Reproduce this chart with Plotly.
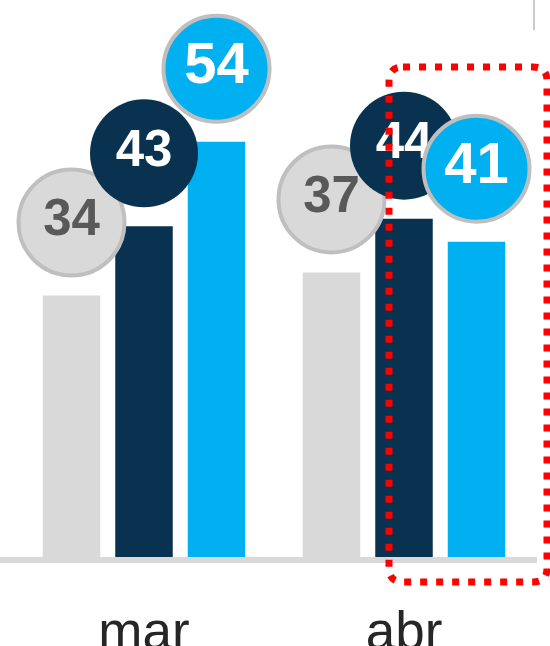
import plotly.graph_objects as go

# ---- data ----
months = ["feb", "mar", "abr"]
series_names = ["Serie 1", "Serie 2", "Serie 3"]
grey_values = [None, 34, 37]   # feb value not visible in the crop
dark_values = [None, 43, 44]   # feb value not visible in the crop
blue_values = [44, 54, 41]

# ---- style ----
GREY = "#d9d9d9"
DARK = "#08324f"
BLUE = "#00b0f0"
BORDER = "#bfbfbf"

W, H = 550, 646
BASE_Y = 557             # y pixel of value 0 inside the figure
BOTTOM = H - BASE_Y
PX_PER_UNIT = 7.69
GROUP_PX = 260.0
SLOT = 72.5 / GROUP_PX
BAR_W = 57.5 / GROUP_PX
LABEL_LIFT = 73 / PX_PER_UNIT

x_idx = list(range(len(months)))
x0 = 1 - 144 / GROUP_PX
x_range = [x0, x0 + W / GROUP_PX]
y_range = [0, BASE_Y / PX_PER_UNIT]

fig = go.Figure()

specs = [
    (series_names[0], grey_values, GREY, -1, "#595959", 51, BORDER, 4, 106),
    (series_names[1], dark_values, DARK, 0, "#ffffff", 51, DARK, 0, 108),
    (series_names[2], blue_values, BLUE, 1, "#ffffff", 58, BORDER, 4, 106),
]

for name, vals, col, k, tcol, tsize, lcol, lw, msize in specs:
    fig.add_trace(go.Bar(
        x=x_idx, y=vals, name=name,
        marker=dict(color=col, line=dict(width=0)),
        width=BAR_W, offset=k * SLOT - BAR_W / 2,
        hoverinfo="skip",
    ))

for name, vals, col, k, tcol, tsize, lcol, lw, msize in specs:
    xs = [i + k * SLOT for i, v in zip(x_idx, vals) if v is not None]
    vs = [v for v in vals if v is not None]
    fig.add_trace(go.Scatter(
        x=xs, y=[v + LABEL_LIFT for v in vs],
        mode="markers+text",
        text=[str(v) for v in vs],
        textposition="middle center",
        textfont=dict(family="Liberation Sans, Arial", size=tsize, color=tcol, weight="bold"),
        marker=dict(size=msize, color=col, line=dict(color=lcol, width=lw)),
        cliponaxis=False, showlegend=False, hoverinfo="skip",
    ))

plot_h = BASE_Y

def py(p):
    return (plot_h - p) / plot_h

def px(p):
    return p / W

# red dotted highlight box (rounded)
bx0, bx1, by0, by1, r = 389, 547, 67, 582, 14
path = (
    f"M {px(bx0 + r)},{py(by0)} L {px(bx1 - r)},{py(by0)} "
    f"Q {px(bx1)},{py(by0)} {px(bx1)},{py(by0 + r)} "
    f"L {px(bx1)},{py(by1 - r)} "
    f"Q {px(bx1)},{py(by1)} {px(bx1 - r)},{py(by1)} "
    f"L {px(bx0 + r)},{py(by1)} "
    f"Q {px(bx0)},{py(by1)} {px(bx0)},{py(by1 - r)} "
    f"L {px(bx0)},{py(by0 + r)} "
    f"Q {px(bx0)},{py(by0)} {px(bx0 + r)},{py(by0)} Z"
)

shapes = [
    # baseline
    dict(type="rect", xref="paper", yref="paper", ysizemode="pixel", yanchor=0,
         x0=0, x1=px(537), y0=-6, y1=0, fillcolor=GREY, line=dict(width=0)),
    # small separator at top right
    dict(type="line", xref="paper", yref="paper", x0=px(534), x1=px(534), y0=py(0), y1=py(30),
         line=dict(color="#cccccc", width=2)),
    dict(type="path", xref="paper", yref="paper", path=path,
         line=dict(color="#ff0000", width=7, dash="7px,9px")),
]

fig.update_layout(
    width=W, height=H,
    margin=dict(l=0, r=0, t=0, b=BOTTOM, autoexpand=False),
    paper_bgcolor="white", plot_bgcolor="white",
    barmode="overlay",
    showlegend=False,
    shapes=shapes,
    xaxis=dict(range=x_range, tickmode="array", tickvals=x_idx, ticktext=months,
               showgrid=False, zeroline=False, showline=False, ticks="",
               tickfont=dict(family="Liberation Sans, Arial", size=53, color="#262626"),
               ticklabelstandoff=38, automargin=False, fixedrange=True),
    yaxis=dict(range=y_range, visible=False, showgrid=False, zeroline=False,
               automargin=False, fixedrange=True),
)

fig.write_html(
    "out.html",
    config={"displayModeBar": False, "staticPlot": True},
    post_script="document.body.style.margin='0px';document.body.style.overflow='hidden';",
)
